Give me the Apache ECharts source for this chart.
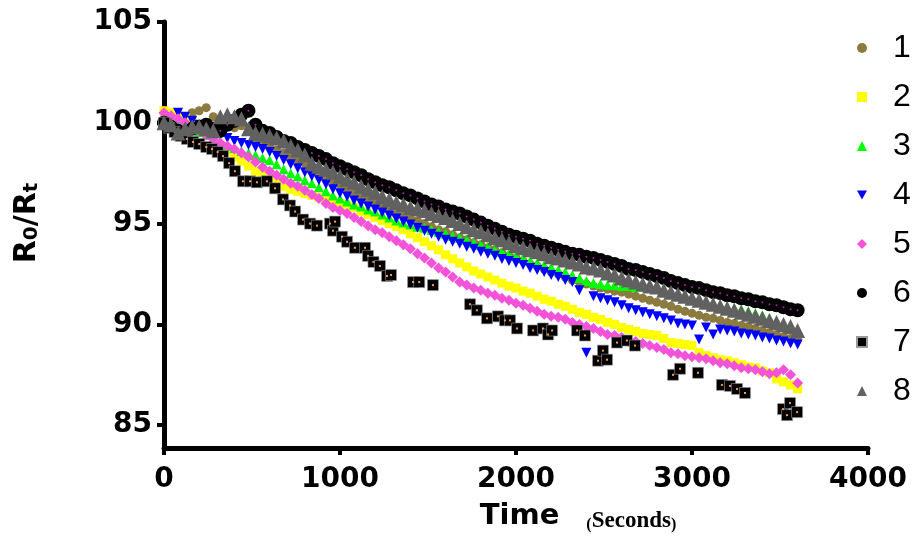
<!DOCTYPE html>
<html><head><meta charset="utf-8">
<script src="https://cdn.jsdelivr.net/npm/echarts@6/dist/echarts.min.js"></script>
<style>html,body{margin:0;padding:0;background:#fff}#c{width:916px;height:538px}</style>
</head><body><div id="c"></div>
<script>
// time grid (seconds) shared by the dense series
const timeGrid = [0,40,80,120,160,200,240,280,320,360,
400,440,480,520,560,600,640,680,720,760,
800,840,880,920,960,1000,1040,1080,1120,1160,
1200,1240,1280,1320,1360,1400,1440,1480,1520,1560,
1600,1640,1680,1720,1760,1800,1840,1880,1920,1960,
2000,2040,2080,2120,2160,2200,2240,2280,2320,2360,
2400,2440,2480,2520,2560,2600,2640,2680,2720,2760,
2800,2840,2880,2920,2960,3000,3040,3080,3120,3160,
3200,3240,3280,3320,3360,3400,3440,3480,3520,3560,
3600];
const s1 = [100.2,100.3,100.4,100.3,100.5,100.6,100.75,100.3,100.05,99.8,
99.75,99.85,99.7,99.1,98.95,98.8,98.65,98.5,98.35,98.15,
98.0,97.6,97.45,97.25,97.1,96.95,96.75,96.5,96.4,96.25,
96.1,95.95,95.75,95.45,95.4,95.3,95.15,95.0,94.85,94.7,
94.6,94.45,94.3,94.2,94.05,93.95,93.8,93.7,93.55,93.4,
93.3,93.15,93.0,92.9,92.75,92.6,92.5,92.35,92.2,92.1,
92.0,91.9,91.8,91.75,91.65,91.6,91.5,91.4,91.3,91.2,
91.1,91.0,90.9,90.75,90.65,90.55,90.45,90.35,90.3,90.2,
90.1,90.05,89.95,89.9,89.8,89.7,89.6,89.5,89.4,89.3,
89.25];
const s2 = [100.6,100.5,100.4,100.3,100.05,99.8,99.5,99.2,98.9,98.6,
98.3,98.1,97.85,97.6,97.4,97.2,97.0,96.85,96.7,96.6,
96.5,96.4,96.3,96.2,96.1,96.0,95.9,95.8,95.6,95.45,
95.3,95.15,95.0,94.85,94.7,94.5,94.3,94.1,93.9,93.7,
93.45,93.25,93.05,92.85,92.65,92.5,92.35,92.2,92.05,91.9,
91.8,91.65,91.55,91.4,91.25,91.15,91.0,90.9,90.75,90.6,
90.5,90.35,90.25,90.1,90.0,89.85,89.75,89.65,89.55,89.5,
89.45,89.3,89.1,89.05,89.0,88.95,88.6,88.45,88.35,88.25,
88.2,88.1,88.0,87.9,87.85,87.7,87.6,87.3,87.15,87.0,
86.8];
const s3 = [100.3,100.15,100.0,99.85,99.7,99.55,99.4,99.2,99.05,98.85,
98.75,98.6,98.5,98.4,98.25,98.15,97.95,97.7,97.5,97.35,
97.15,97.0,96.8,96.6,96.4,96.25,96.1,95.95,95.85,95.7,
95.6,95.45,95.3,95.15,95.05,94.95,94.85,94.8,94.7,94.6,
94.5,94.4,94.3,94.2,94.05,93.95,93.85,93.7,93.6,93.5,
93.4,93.3,93.15,93.05,92.95,92.85,92.7,92.6,92.45,92.3,
92.15,92.05,92.0,91.95,91.95,91.9,91.9,91.85,91.85,91.8,
91.8,91.7,91.6,91.5,91.4,91.3,91.2,91.1,91.05,90.95,
90.85,90.8,90.75,90.65,90.55,90.45,90.3,90.2,90.1,89.95,
89.6];
const s4 = [null,null,100.5,100.3,100.1,99.9,99.7,99.55,99.4,99.25,
99.1,99.0,98.9,98.8,98.7,98.55,98.35,98.15,97.95,97.75,
97.55,97.35,97.15,96.95,96.7,96.5,96.35,96.15,96.0,95.85,
95.7,95.55,95.4,95.25,95.1,94.95,94.8,94.65,94.5,94.35,
94.2,94.1,94.0,93.85,93.75,93.6,93.5,93.4,93.25,93.15,
93.05,92.95,92.8,92.7,92.6,92.45,92.35,92.2,92.1,91.7,
88.6,91.4,91.3,91.2,91.1,90.95,90.8,90.7,90.6,90.5,
90.4,90.3,90.2,90.05,90.0,89.95,89.25,89.85,89.5,89.75,
89.7,89.65,89.55,89.5,89.45,89.35,89.3,89.2,89.15,89.05,
89.0];
const s5 = [100.5,100.35,100.2,100.0,99.8,99.6,99.4,99.2,99.0,98.85,
98.7,98.5,98.3,98.05,97.8,97.6,97.4,97.2,97.0,96.85,
96.65,96.45,96.25,96.0,95.8,95.65,95.5,95.3,95.1,94.9,
94.7,94.55,94.35,94.15,93.95,93.75,93.5,93.3,93.05,92.8,
92.6,92.35,92.1,91.95,91.8,91.7,91.55,91.45,91.3,91.2,
91.05,90.95,90.8,90.65,90.5,90.4,90.35,90.25,90.1,90.0,
89.9,89.8,89.65,89.5,89.45,89.35,89.15,89.15,89.05,88.95,
88.85,88.75,88.6,88.55,88.45,88.4,88.35,88.3,88.2,88.1,
88.05,87.95,87.85,87.8,87.75,87.65,87.55,87.6,87.75,87.5,
87.1];
const s6 = [100.0,99.8,99.6,99.5,99.7,99.8,99.9,99.7,99.6,99.9,
100.1,100.4,100.6,99.9,99.6,99.5,99.3,99.1,99.0,98.8,
98.65,98.5,98.35,98.2,98.0,97.85,97.7,97.55,97.4,97.2,
97.05,96.9,96.8,96.65,96.5,96.4,96.25,96.1,95.95,95.85,
95.7,95.6,95.5,95.35,95.2,95.05,94.9,94.75,94.6,94.45,
94.35,94.25,94.15,94.0,93.9,93.8,93.7,93.6,93.5,93.45,
93.35,93.3,93.2,93.1,93.0,92.9,92.75,92.7,92.6,92.5,
92.4,92.3,92.15,92.05,91.95,91.85,91.8,91.7,91.6,91.55,
91.45,91.4,91.3,91.25,91.15,91.1,91.0,90.95,90.85,90.75,
90.7];
const s8 = [100.0,99.9,99.5,99.7,99.8,99.8,99.7,99.6,100.3,100.4,
100.3,100.2,99.7,99.5,99.45,99.35,99.25,99.1,98.85,98.65,
98.4,98.0,97.85,97.7,97.55,97.35,97.2,97.05,96.85,96.7,
96.55,96.35,96.2,96.05,95.95,95.8,95.75,95.65,95.5,95.4,
95.3,95.15,95.0,94.85,94.7,94.6,94.45,94.3,94.2,94.05,
93.9,93.8,93.7,93.6,93.5,93.35,93.3,93.2,93.1,93.0,
92.85,92.8,92.7,92.55,92.45,92.3,92.2,92.1,92.0,91.9,
91.85,91.7,91.6,91.5,91.4,91.3,91.2,91.1,91.0,90.9,
90.8,90.7,90.6,90.5,90.4,90.3,90.2,90.1,90.0,89.9,
89.7];
// series 7 is sparse, with its own times
const s7Time = [0,30,60,95,130,165,200,240,273,305,
335,370,403,449,489,528,585,631,676,716,
745,790,830,869,943,960,972,1011,1040,1085,
1142,1159,1190,1227,1267,1290,1415,1450,1528,1739,
1778,1835,1898,1937,1966,2006,2097,2153,2182,2205,
2347,2392,2466,2494,2517,2574,2630,2676,2892,2932,
3034,3170,3216,3256,3301,3517,3540,3557,3597];
const s7Value = [100.0,99.75,99.55,99.35,99.2,99.05,98.95,98.8,98.7,98.55,
98.35,98.0,97.6,97.1,97.1,97.05,97.1,96.75,96.2,95.9,
95.6,95.2,95.0,94.9,95.0,94.65,95.1,94.35,94.1,93.8,
93.8,93.4,93.1,92.9,92.4,92.45,92.1,92.1,91.95,91.0,
90.7,90.3,90.4,90.2,90.2,89.8,89.7,89.8,89.5,89.7,
89.7,89.45,88.2,88.7,88.25,89.1,89.2,88.95,87.5,87.8,
87.6,87.0,86.95,86.8,86.6,85.8,85.5,86.1,85.65];
const xTicks = [0,1000,2000,3000,4000];
const yTicks = [85,90,95,100,105];
const seriesNames = ['1','2','3','4','5','6','7','8'];

function pairs(ts, vs) {
  const out = [];
  for (let i = 0; i < ts.length; i++) if (vs[i] != null) out.push([ts[i], vs[i]]);
  return out;
}

const chart = echarts.init(document.getElementById('c'), null, {renderer: 'canvas'});
const invTri = 'path://M0,0L10,0L5,9Z';
const mk = (name, data, symbol, size, color, extra) => Object.assign({
  name, type: 'scatter', data, symbol, symbolSize: size,
  itemStyle: {color, opacity: 1}, emphasis: {disabled: true}, animation: false
}, extra || {});

const d7 = pairs(s7Time, s7Value);
const d6 = pairs(timeGrid, s6);
chart.setOption({
  animation: false,
  grid: {left: 164, right: 48, top: 22, bottom: 87, containLabel: false},
  legend: {
    data: seriesNames, orient: 'vertical', left: 856, top: 31, padding: 0,
    itemWidth: 10, itemHeight: 10, itemGap: 15, selectedMode: false,
    textStyle: {fontSize: 32, fontFamily: 'Liberation Sans', color: '#000', lineHeight: 34, padding: [0, 0, 0, 21]}
  },
  xAxis: {
    type: 'value', min: 0, max: 4000, interval: 1000,
    splitLine: {show: false},
    axisLine: {lineStyle: {color: '#000', width: 5}},
    axisTick: {length: 7, lineStyle: {color: '#000', width: 4}},
    axisLabel: {margin: 18, fontSize: 28, fontWeight: 'bold', fontFamily: 'DejaVu Sans', color: '#000',
      formatter: v => String(v)},
    name: '{t|Time}{p|(}{s|Seconds}{q|)}',
    nameLocation: 'middle', nameGap: 51,
    nameTextStyle: {
      padding: [0, 0, 0, 124],
      rich: {
        t: {fontSize: 29, fontWeight: 'bold', fontFamily: 'DejaVu Sans', color: '#000', lineHeight: 34},
        p: {fontSize: 16, fontWeight: 'bold', fontFamily: 'Liberation Serif', color: '#000', lineHeight: 24, verticalAlign: 'bottom', padding: [0, 0, 0, 27]},
        s: {fontSize: 23, fontWeight: 'bold', fontFamily: 'Liberation Serif', color: '#000', lineHeight: 28, verticalAlign: 'bottom'},
        q: {fontSize: 16, fontWeight: 'bold', fontFamily: 'Liberation Serif', color: '#000', lineHeight: 24, verticalAlign: 'bottom'}
      }
    }
  },
  yAxis: {
    type: 'value', min: 83.87, max: 105,
    splitLine: {show: false},
    axisLine: {lineStyle: {color: '#000', width: 5}},
    axisTick: {length: 7, customValues: yTicks, lineStyle: {color: '#000', width: 4}},
    axisLabel: {customValues: yTicks, margin: 12, fontSize: 28, fontWeight: 'bold', fontFamily: 'DejaVu Sans', color: '#000'},
    name: '{a|R}{b|0}{a|/R}{b|t}',
    nameLocation: 'middle', nameRotate: 90, nameGap: 122,
    nameTextStyle: {
      padding: [0, 0, 0, 24],
      rich: {
        a: {fontSize: 30, fontWeight: 'bold', fontFamily: 'DejaVu Sans', color: '#000', lineHeight: 30},
        b: {fontSize: 20, fontWeight: 'bold', fontFamily: 'DejaVu Sans', color: '#000', lineHeight: 20, verticalAlign: 'bottom'}
      }
    }
  },
  series: [
    mk('1', pairs(timeGrid, s1), 'circle', 9, '#8C7B3E'),
    mk('2', pairs(timeGrid, s2), 'rect', 9, '#FFFF00'),
    mk('3', pairs(timeGrid, s3), 'triangle', 10, '#00FF00'),
    mk('4', pairs(timeGrid, s4), invTri, 10, '#0000FF'),
    mk('5', pairs(timeGrid, s5), 'diamond', 11, '#F552DA'),
    mk('6', d6, 'circle', 14, '#000000'),
    mk('6c', d6, 'circle', 2, '#B020B0', {silent: true}),
    mk('7', d7, 'rect', 11, '#000000', {itemStyle: {color: '#000', opacity: 1, borderColor: '#999', borderWidth: 0.6}}),
    mk('7c', d7, 'rect', 2, '#F0A050', {silent: true}),
    mk('8', pairs(timeGrid, s8), 'triangle', 15, '#616161')
  ]
});
</script></body></html>
